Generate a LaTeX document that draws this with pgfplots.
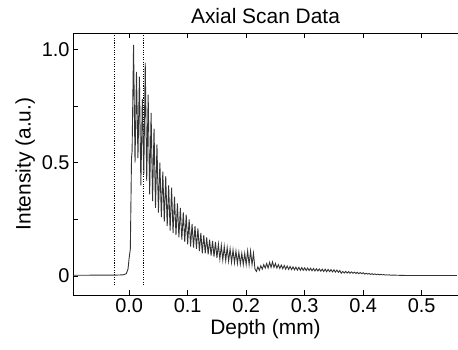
\documentclass[border=0pt]{standalone}
\usepackage{pgfplots}
\pgfplotsset{compat=1.18}
\usepackage{fontspec}
\setmainfont{Liberation Sans}
\begin{document}
\begin{tikzpicture}
\begin{axis}[
  scale only axis,
  width=385bp, height=262bp,
  xmin=-0.096, xmax=0.562,
  ymin=-0.084, ymax=1.072,
  axis x line=box, axis y line=left,
  axis line style={line width=0.8pt, -},
  tick align=inside,
  xtick={0,0.1,0.2,0.3,0.4,0.5},
  xticklabels={0.0,0.1,0.2,0.3,0.4,0.5},
  ytick={0,0.5,1.0},
  yticklabels={0,0.5,1.0},
  minor ytick={0.25,0.75},
  major tick length=5bp, minor tick length=5bp,
  every tick/.style={black, line width=0.8pt},
  tick label style={font=\fontsize{20}{24}\selectfont},
  label style={font=\fontsize{21}{25}\selectfont},
  title style={font=\fontsize{21}{25}\selectfont},
  /pgf/number format/assume math mode=true,
  title={Axial Scan Data},
  xlabel={Depth (mm)},
  ylabel={Intensity (a.u.)},
  clip=false,
]
\coordinate (ll) at (rel axis cs:0,0);
\coordinate (ur) at (rel axis cs:1,1);
\addplot[black, line width=1.1pt, dash pattern=on 1.1pt off 1.3pt] coordinates {(-0.025,-0.04) (-0.025,1.063)};
\addplot[black, line width=1.1pt, dash pattern=on 1.1pt off 1.3pt] coordinates {(0.025,-0.04) (0.025,1.063)};
\addplot[black!80, line width=0.9pt] coordinates {
(-0.096,0.003) (-0.02,0.004) (-0.01,0.005) (-0.005,0.01) (-0.002,0.03) (0.0,0.08) (0.002,0.12) (0.004,0.52)
(0.005,0.55) (0.0075,1.02) (0.010,0.50) (0.0125,0.90) (0.015,0.52) (0.0175,0.88) (0.020,0.40) (0.0225,0.78)
(0.025,0.45) (0.0275,0.94) (0.030,0.42) (0.0325,0.80) (0.035,0.36) (0.0375,0.72) (0.040,0.33) (0.0425,0.65)
(0.045,0.30) (0.0475,0.58) (0.050,0.28) (0.0525,0.50) (0.055,0.26) (0.0575,0.46) (0.060,0.24) (0.0625,0.44)
(0.065,0.22) (0.0675,0.40) (0.070,0.20) (0.0725,0.39) (0.075,0.19) (0.0775,0.35) (0.080,0.18) (0.0825,0.32)
(0.085,0.17) (0.0875,0.30) (0.090,0.16) (0.0925,0.28) (0.095,0.15) (0.0975,0.27) (0.100,0.14) (0.1025,0.25)
(0.105,0.13) (0.1075,0.23) (0.110,0.125) (0.1125,0.22) (0.115,0.12) (0.1175,0.21) (0.120,0.11) (0.1225,0.19)
(0.125,0.10) (0.1275,0.18) (0.130,0.10) (0.1325,0.17) (0.135,0.095) (0.1375,0.16) (0.140,0.09) (0.1425,0.155)
(0.145,0.085) (0.1475,0.15) (0.150,0.08) (0.1525,0.14) (0.155,0.075) (0.1575,0.135) (0.160,0.07) (0.1625,0.13)
(0.165,0.068) (0.1675,0.125) (0.170,0.065) (0.1725,0.12) (0.175,0.06) (0.1775,0.115) (0.180,0.058) (0.1825,0.11)
(0.185,0.055) (0.1875,0.105) (0.190,0.052) (0.1925,0.10) (0.195,0.05) (0.1975,0.10) (0.200,0.05) (0.2025,0.11)
(0.205,0.05) (0.2075,0.11) (0.210,0.05) (0.2125,0.10) (0.215,0.03) (0.2175,0.02) (0.220,0.04) (0.2225,0.025)
(0.225,0.045) (0.2275,0.03) (0.230,0.05) (0.2325,0.035) (0.235,0.055) (0.2375,0.035) (0.240,0.06) (0.2425,0.038)
(0.245,0.062) (0.2475,0.038) (0.250,0.055) (0.2525,0.035) (0.255,0.05) (0.2575,0.033) (0.260,0.048) (0.2625,0.032)
(0.265,0.046) (0.2675,0.03) (0.270,0.044) (0.2725,0.029) (0.275,0.042) (0.2775,0.028) (0.280,0.04) (0.2825,0.027)
(0.285,0.039) (0.2875,0.026) (0.290,0.038) (0.2925,0.025) (0.295,0.037) (0.2975,0.025) (0.300,0.036) (0.3025,0.024)
(0.305,0.035) (0.3075,0.024) (0.310,0.034) (0.3125,0.023) (0.315,0.033) (0.3175,0.022) (0.320,0.032) (0.3225,0.022)
(0.325,0.031) (0.3275,0.021) (0.330,0.030) (0.3325,0.020) (0.335,0.030) (0.3375,0.019) (0.340,0.029) (0.3425,0.019)
(0.345,0.028) (0.3475,0.018) (0.350,0.027) (0.3525,0.017) (0.355,0.026) (0.3575,0.016) (0.360,0.024) (0.3625,0.012)
(0.365,0.020) (0.3675,0.013) (0.370,0.020) (0.3725,0.013) (0.375,0.019) (0.3775,0.012) (0.380,0.018) (0.3825,0.012)
(0.385,0.017) (0.3875,0.011) (0.390,0.016) (0.3925,0.010) (0.395,0.015) (0.3975,0.010) (0.400,0.014) (0.4025,0.008)
(0.405,0.012) (0.4075,0.008) (0.410,0.011) (0.4125,0.007) (0.415,0.010) (0.4175,0.006) (0.420,0.009) (0.4225,0.006)
(0.425,0.008) (0.4275,0.005) (0.430,0.007) (0.4325,0.005) (0.435,0.006) (0.4375,0.004) (0.440,0.005) (0.4425,0.004)
(0.445,0.005) (0.4475,0.003) (0.450,0.004) (0.46,0.003) (0.475,0.002) (0.56,0.002)
};
\end{axis}
\pgfresetboundingbox
\path[use as bounding box] ([shift={(-73bp,-55bp)}]ll) rectangle ([shift={(0bp,33bp)}]ur);
\end{tikzpicture}
\end{document}
